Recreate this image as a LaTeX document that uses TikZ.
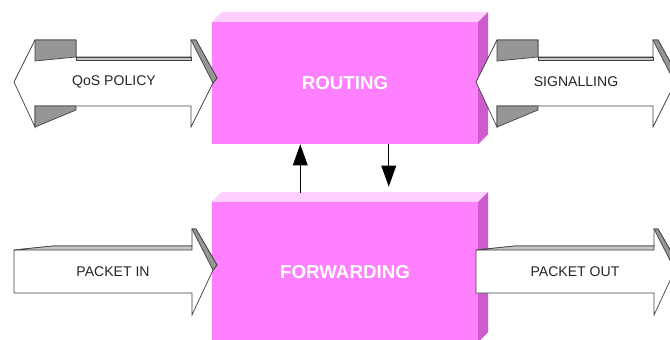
\documentclass[tikz,border=0pt]{standalone}
\usepackage{fontspec}
\setmainfont{Liberation Sans}
\usetikzlibrary{arrows.meta}
\definecolor{boxfront}{RGB}{255,128,255}
\definecolor{boxtop}{RGB}{255,208,255}
\definecolor{boxside}{RGB}{204,92,204}
\definecolor{rim}{RGB}{64,64,64}
\definecolor{shadegray}{RGB}{150,150,150}
\definecolor{stripgray}{RGB}{200,200,200}
\tikzset{
  boxface/.style={fill=boxfront, minimum width=7.98cm, inner sep=0pt, text=white, font=\fontsize{16}{19}\selectfont\bfseries},
  arrowtext/.style={text=black!85, font=\fontsize{12}{14}\selectfont},
  arrowbody/.style={fill=white, draw=rim, line width=0.6pt},
  arrowshade/.style={fill=shadegray, draw=rim, line width=0.6pt},
  arrowstrip/.style={fill=stripgray, draw=rim, line width=0.6pt},
  updown/.style={line width=1.2pt, -{Triangle[length=18pt,width=12.5pt]}}
}
\begin{document}
\begin{tikzpicture}[x=0.03cm, y=-0.03cm]
    \useasboundingbox (0,0) rectangle (670,340);
    \clip (0,0) rectangle (670,340);

    \node (rout) at (345,83) [boxface, minimum height=3.66cm] {ROUTING};
    \node (fwd) at (345,272) [boxface, minimum height=4.2cm] {FORWARDING};
    \foreach \b in {rout,fwd} {
        \fill[boxtop] (\b.north west) -- ++(10,-10) -- ([shift={(10,-10)}]\b.north east) -- (\b.north east) -- cycle;
        \fill[boxside] (\b.north east) -- ++(10,-10) -- ([shift={(10,-10)}]\b.south east) -- (\b.south east) -- cycle;
    }

    \draw[updown] ([shift={(88.5,-9)}]fwd.north west) -- ([shift={(88.5,0)}]rout.south west);
    \draw[updown] ([shift={(177,0)}]rout.south west) -- ([shift={(177,-15)}]fwd.north west);

    \foreach \dx in {0,462} {
        \begin{scope}[shift={(\dx,0)}]
            \draw[arrowbody] (14,82) -- (35,40) -- (76,40) -- (76,57) -- (191,57) -- (191,40) -- (196,40) -- (217,78) -- (213,83) -- (191,127) -- (191,106) -- (35,106) -- (35,127) -- cycle;
            \draw[arrowshade] (35,40) -- (76,40) -- (76,57) -- (35,61) -- cycle;
            \draw[arrowshade] (35,106) -- (76,106) -- (76,110) -- (35,127) -- cycle;
            \draw[arrowshade] (191,40) -- (196,40) -- (217,78) -- (213,83) -- cycle;
            \draw[arrowstrip] (76,57) -- (191,57) -- (191,60) -- (76,60) -- cycle;
        \end{scope}
        \begin{scope}[shift={(\dx,0)}]
            \draw[arrowbody] (14,250) -- (53,246) -- (192,246) -- (192,229) -- (196,229) -- (217,265) -- (213,270) -- (192,315) -- (192,293) -- (14,293) -- cycle;
            \draw[arrowstrip] (14,250) -- (53,246) -- (192,246) -- (192,250) -- cycle;
            \draw[arrowshade] (192,229) -- (196,229) -- (217,265) -- (213,270) -- cycle;
        \end{scope}
    }

    \node (qos) at (114,82) [arrowtext] {QoS POLICY};
    \node (sig) at (576,82) [arrowtext] {SIGNALLING};
    \node (pin) at (113,272) [arrowtext] {PACKET IN};
    \node (pout) at (575,272) [arrowtext] {PACKET OUT};
\end{tikzpicture}
\end{document}
